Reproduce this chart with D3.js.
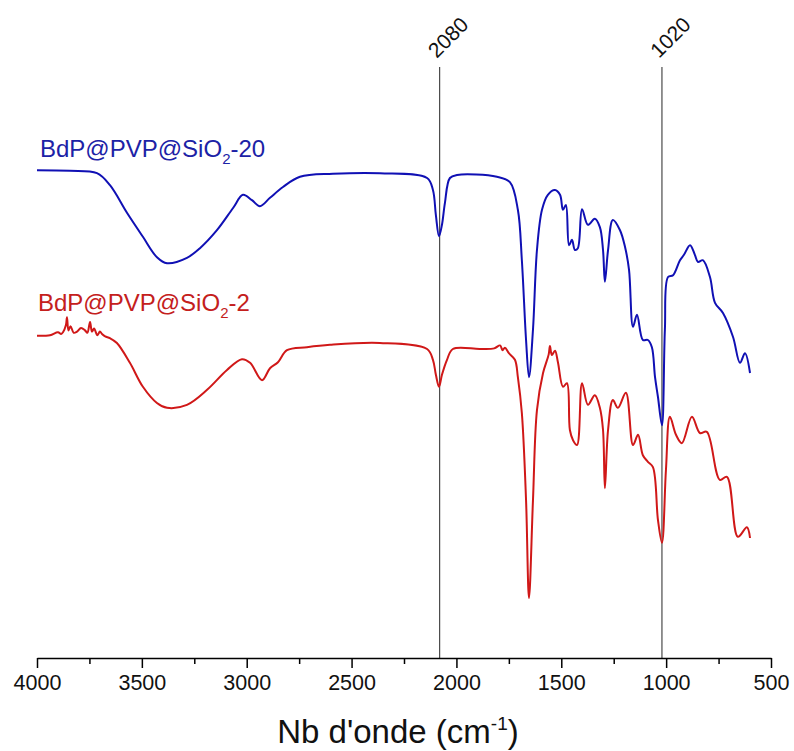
<!DOCTYPE html>
<html>
<head>
<meta charset="utf-8">
<script src="https://cdn.jsdelivr.net/npm/d3@7"></script>
<style>
  html, body { margin: 0; padding: 0; background: #fff; }
  svg { display: block; font-family: "Liberation Sans", Arial, sans-serif; }
</style>
</head>
<body>
<svg id="chart" width="794" height="751"></svg>
<script>
// ---- Data (wavenumber cm-1, transmittance a.u.) ----
const blueWave = [4000,3843,3714,3652,3571,3495,3428,3380,3285,3223,3142,3065,3018,2975,2937,2889,2827,2746,2589,2365,2140,2112,2098,2083,2069,2055,2031,1997,1807,1745,1707,1688,1668,1654,1635,1616,1592,1564,1530,1506,1492,1478,1463,1449,1435,1421,1401,1373,1340,1316,1301,1292,1277,1254,1220,1196,1177,1158,1139,1111,1087,1068,1053,1039,1020,1006,991,967,934,915,886,863,848,825,791,767,729,681,648,624,600];
const blueT = [81.3,81.2,80.8,78.8,74.2,70.2,66.8,65.8,66.7,68.3,71.3,75.0,77.2,76.3,75.3,76.7,78.5,80.2,80.7,80.8,80.0,78.0,73.8,70.3,72.2,75.8,80.0,80.5,80.2,79.3,74.7,66.3,53.0,46.8,54.7,68.0,74.7,77.2,78.0,77.2,74.7,75.5,68.8,69.7,68.0,68.3,74.8,72.2,73.2,71.8,68.0,62.7,68.0,73.0,71.3,68.5,64.7,55.2,57.2,53.0,53.0,51.8,46.8,43.5,38.8,54.7,63.5,63.8,66.3,67.2,68.8,67.2,66.0,66.3,63.5,59.2,57.5,53.5,49.2,50.8,47.5];

const redWave = [4000,3938,3900,3885,3876,3862,3857,3850,3840,3825,3809,3790,3771,3760,3747,3738,3728,3712,3700,3690,3675,3652,3619,3557,3495,3428,3380,3285,3189,3094,3023,2984,2927,2889,2851,2808,2713,2603,2365,2140,2112,2098,2083,2069,2045,2017,1888,1820,1792,1780,1769,1750,1721,1707,1688,1668,1654,1635,1616,1587,1560,1554,1545,1530,1516,1492,1473,1459,1444,1425,1401,1373,1340,1316,1301,1292,1277,1254,1230,1192,1158,1134,1111,1087,1063,1039,1020,1001,982,953,925,877,839,806,744,710,658,615,600];
const redT = [53.7,53.8,54.3,54.0,54.3,55.5,56.8,54.6,55.3,54.2,54.4,55.0,54.6,54.2,56.0,54.4,54.9,53.8,54.4,54.0,53.6,53.3,52.5,49.2,45.2,42.5,41.7,42.2,44.7,48.0,49.8,49.2,46.3,48.3,49.3,51.3,51.8,52.2,52.5,51.5,49.7,47.2,45.2,47.2,49.7,51.5,51.5,51.6,52.1,51.3,51.7,50.8,49.7,46.8,40.8,26.3,10.0,26.3,41.3,47.5,50.6,52.0,50.5,51.2,49.3,45.2,45.8,38.0,36.3,35.5,45.8,42.2,43.8,41.7,38.0,28.3,38.0,43.0,41.7,44.2,35.5,37.2,33.8,32.7,31.8,23.0,19.2,31.3,40.2,37.2,35.8,40.2,37.5,37.7,29.7,30.2,20.2,21.8,20.0];

const xTicks = [4000,3500,3000,2500,2000,1500,1000,500];
const xMinorTicks = [3750,3250,2750,2250,1750,1250,750];
const markerLines = [2080, 1020];
const seriesNames = ["BdP@PVP@SiO", "BdP@PVP@SiO"];
const seriesSuffix = ["-20", "-2"];
const xTitle = "Nb d'onde (cm";

// ---- Layout ----
const svg = d3.select("#chart");
const x = d3.scaleLinear().domain([4000, 500]).range([37, 771]);
const y = d3.scaleLinear().domain([0, 100]).range([658, 58]);

const blueData = blueWave.map((w, i) => ({w, t: blueT[i]}));
const redData = redWave.map((w, i) => ({w, t: redT[i]}));

const line = d3.line().x(d => x(d.w)).y(d => y(d.t)).curve(d3.curveCatmullRom.alpha(0.5));

// marker vertical lines
const topVal = 98.5;
svg.selectAll("line.marker").data(markerLines).join("line")
  .attr("class", "marker")
  .attr("x1", d => x(d)).attr("x2", d => x(d))
  .attr("y1", y(topVal)).attr("y2", y(0))
  .attr("stroke", "#3a3a3a").attr("stroke-width", 1.1);

svg.selectAll("text.markerLbl").data(markerLines).join("text")
  .attr("class", "markerLbl")
  .attr("transform", d => `translate(${x(d) - 3},${y(topVal) - 8}) rotate(-45)`)
  .attr("font-size", 21).attr("fill", "#111")
  .text(d => d);

// curves
svg.append("path").datum(redData)
  .attr("d", line).attr("fill", "none")
  .attr("stroke", "#d01818").attr("stroke-width", 2).attr("stroke-linejoin", "round");
svg.append("path").datum(blueData)
  .attr("d", line).attr("fill", "none")
  .attr("stroke", "#1010b4").attr("stroke-width", 2).attr("stroke-linejoin", "round");

// x axis
const axisG = svg.append("g").attr("transform", `translate(0,${y(0)})`);
axisG.call(d3.axisBottom(x).tickValues(xTicks).tickSize(10).tickSizeOuter(0).tickFormat(d3.format("d")))
  .call(g => g.select(".domain").attr("stroke-width", 1.5))
  .call(g => g.selectAll(".tick line").attr("stroke-width", 1.5))
  .call(g => g.selectAll(".tick text").attr("font-size", 21.5).attr("font-family", "Liberation Sans, Arial, sans-serif").attr("fill", "#111").attr("dy", "0.9em"));
const minorG = svg.append("g").attr("transform", `translate(0,${y(0)})`);
minorG.call(d3.axisBottom(x).tickValues(xMinorTicks).tickSize(6).tickSizeOuter(0).tickFormat(""))
  .call(g => g.select(".domain").remove())
  .call(g => g.selectAll(".tick line").attr("stroke-width", 1.5));

// axis title
const title = svg.append("text")
  .attr("x", 398).attr("y", 743)
  .attr("text-anchor", "middle").attr("font-size", 33).attr("fill", "#111");
title.append("tspan").text(xTitle);
title.append("tspan").attr("dy", -13).attr("font-size", 19).text("-1");
title.append("tspan").attr("dy", 13).text(")");

// series labels
const labelCfg = [
  {color: "#1c22a6", x: 40, y: 157},
  {color: "#c4201c", x: 38, y: 311}
];
labelCfg.forEach((c, i) => {
  const t = svg.append("text").attr("x", c.x).attr("y", c.y)
    .attr("font-size", 24).attr("fill", c.color);
  t.append("tspan").text(seriesNames[i]);
  t.append("tspan").attr("dy", 7).attr("font-size", 15).text("2");
  t.append("tspan").attr("dy", -7).text(seriesSuffix[i]);
});
</script>
</body>
</html>
